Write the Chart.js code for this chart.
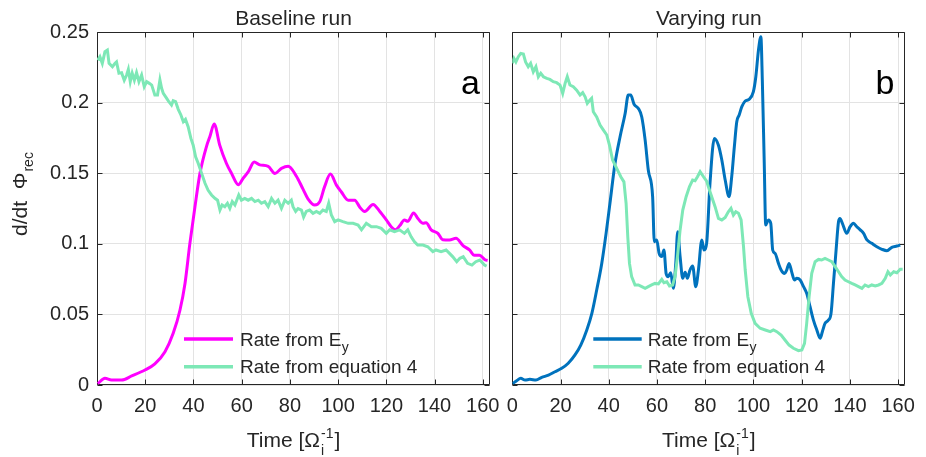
<!DOCTYPE html>
<html><head><meta charset="utf-8">
<script src="https://cdn.jsdelivr.net/npm/chart.js@4.4.1/dist/chart.umd.min.js"></script>
<style>
html,body{margin:0;padding:0;background:#fff;}
#wrap{position:relative;width:926px;height:457px;overflow:hidden;}
canvas{position:absolute;top:0;}
</style>
</head><body>
<div id="wrap">
<canvas id="c1" width="506" height="457" style="left:0"></canvas>
<canvas id="c2" width="420" height="457" style="left:506px"></canvas>
</div>
<script>
// ---- tick values / labels ----
const xTicks = [0,20,40,60,80,100,120,140,160];
const xTickLabels = ['0','20','40','60','80','100','120','140','160'];
const yTicks = [0,0.05,0.1,0.15,0.2,0.25];
const yTickLabels = ['0','0.05','0.1','0.15','0.2','0.25'];
const panelTitles = ['Baseline run','Varying run'];
const panelLetters = ['a','b'];
const legendLabels = ['Rate from E','Rate from equation 4'];

// ---- data: [time, rate] ----
const baselineEy = [[0.3,0.001],[3.3,0.0047],[6,0.0035],[10.2,0.0035],[14.4,0.0064],[19.9,0.0106],[24,0.015],[28.2,0.0236],[31.6,0.0366],[34.4,0.053],[36.5,0.072],[38.5,0.100],[40.6,0.126],[42.7,0.150],[45.4,0.169],[46.8,0.176],[48.6,0.185],[50.9,0.170],[53.7,0.157],[55.8,0.150],[58.6,0.142],[60.6,0.1465],[62.7,0.151],[65.2,0.158],[67.5,0.156],[71,0.155],[73.8,0.150],[76.5,0.1535],[79.3,0.155],[82.7,0.148],[85.4,0.139],[87.5,0.132],[90.3,0.1276],[92.4,0.130],[94.4,0.1406],[96.8,0.1495],[99.3,0.1417],[101.3,0.137],[104.2,0.131],[106.9,0.131],[109,0.126],[111,0.123],[114.5,0.128],[117.3,0.123],[120,0.117],[122.1,0.112],[123.8,0.110],[125.6,0.113],[127.5,0.117],[128.9,0.116],[131.3,0.122],[133.1,0.118],[135.2,0.1146],[136.5,0.115],[138.6,0.110],[141.4,0.1075],[143.4,0.103],[146.2,0.1028],[148.9,0.104],[151.7,0.099],[154.5,0.0957],[156.5,0.092],[158.6,0.092],[161.1,0.0886],[162,0.0883]];

const baselineEq4 = [[0.3,0.2303],[1.2,0.2327],[2.2,0.228],[3.3,0.2362],[4.3,0.2374],[5,0.228],[6.4,0.2256],[7.5,0.228],[8.1,0.229],[9.1,0.221],[10.2,0.2214],[11.3,0.216],[12.3,0.2197],[13,0.2237],[13.8,0.215],[14.6,0.221],[15.5,0.216],[16.4,0.2214],[17.4,0.215],[18.5,0.2197],[19.6,0.2114],[20.6,0.215],[21.7,0.2138],[22.7,0.2126],[24,0.2055],[25.1,0.2055],[26.1,0.2162],[26.8,0.2103],[27.5,0.2067],[28.9,0.2032],[29.8,0.2008],[30.9,0.1984],[31.6,0.2015],[32.6,0.2008],[33.7,0.1954],[34.8,0.1914],[35.8,0.1866],[36.7,0.1883],[37.8,0.1831],[38.95,0.1748],[39.9,0.170],[40.9,0.1618],[42,0.157],[43.4,0.150],[44.8,0.143],[46.1,0.138],[47.5,0.1347],[48.9,0.1323],[50,0.131],[51,0.124],[51.9,0.1276],[53,0.1264],[54.1,0.1288],[55.1,0.1252],[56.1,0.130],[57.2,0.1276],[58.8,0.1347],[59.9,0.131],[61.3,0.1323],[62.7,0.131],[64.1,0.1323],[65.5,0.130],[66.9,0.131],[68.2,0.1288],[69.6,0.130],[71,0.1264],[72.4,0.1323],[73.8,0.1288],[75.1,0.131],[76.5,0.1252],[77.9,0.131],[79.3,0.1288],[80.6,0.131],[81.3,0.1264],[82.4,0.123],[83.4,0.125],[84.8,0.124],[85.7,0.119],[86.8,0.123],[88.2,0.124],[89.6,0.1217],[91,0.123],[92.4,0.1217],[93.7,0.124],[95.1,0.123],[96.1,0.1288],[97.2,0.1205],[98.6,0.1158],[100,0.117],[102,0.1158],[104.2,0.1146],[106.2,0.1146],[108.3,0.1134],[109.7,0.110],[111.7,0.1146],[113.8,0.1122],[115.9,0.1122],[117.9,0.111],[120,0.1075],[121.4,0.110],[123.4,0.1087],[125.5,0.110],[127.5,0.1075],[128.9,0.110],[130.3,0.105],[131.6,0.1016],[133,0.0992],[135.2,0.0992],[137.2,0.098],[139.3,0.0945],[140.6,0.0957],[142.7,0.0945],[144.8,0.0957],[146.2,0.0933],[147.5,0.091],[149.2,0.0874],[150.5,0.0898],[151.9,0.091],[153.7,0.0862],[155.5,0.085],[157.1,0.0874],[158.8,0.0886],[160.7,0.085],[161.6,0.0843]];

const varyingEy = [[0.15,0.001],[1.8,0.003],[3.5,0.0047],[5.3,0.0035],[7.3,0.004],[9.8,0.0035],[12.2,0.0054],[15,0.007],[17.7,0.0094],[20.5,0.0118],[23.2,0.0154],[26,0.0213],[28.4,0.0283],[30.9,0.039],[33,0.0508],[35,0.0673],[37.1,0.0862],[38.9,0.1075],[40.5,0.1288],[42.6,0.157],[44.7,0.176],[46.8,0.1925],[48.1,0.2055],[49.1,0.2055],[50.5,0.199],[52.3,0.196],[53.7,0.190],[55.1,0.1736],[56.4,0.1524],[58.2,0.1335],[58.9,0.1016],[59.9,0.1028],[60.9,0.0933],[62,0.091],[62.9,0.0957],[63.8,0.079],[64.7,0.0768],[65.7,0.0796],[66.8,0.0685],[67.8,0.0862],[68.6,0.1087],[69.6,0.091],[70.7,0.0756],[71.7,0.080],[72.6,0.0756],[73.7,0.0815],[74.8,0.0843],[76.1,0.0697],[77.2,0.0815],[78.6,0.1028],[79.5,0.0957],[80.6,0.1004],[82,0.143],[83.8,0.1748],[85.5,0.170],[86.9,0.1595],[88.3,0.1453],[89.9,0.1335],[91,0.1476],[92.1,0.169],[93.1,0.1866],[94.1,0.1914],[95.2,0.1973],[96.6,0.2013],[98.2,0.2025],[100,0.208],[101,0.2185],[102.1,0.2374],[103.1,0.2469],[103.7,0.216],[104.5,0.157],[105.1,0.1134],[106.2,0.117],[107.2,0.1146],[108,0.0957],[109,0.0933],[110.4,0.0862],[111.5,0.0815],[112.9,0.079],[113.8,0.0815],[114.8,0.0862],[115.9,0.080],[117,0.0744],[118,0.0756],[119.4,0.0744],[120.8,0.0697],[122.1,0.065],[123.5,0.0555],[124.9,0.046],[126.3,0.039],[127.7,0.0331],[128.6,0.0378],[129.7,0.0437],[131.1,0.046],[132.2,0.0508],[133.2,0.072],[134.3,0.0957],[135.3,0.1158],[135.9,0.1181],[136.9,0.1146],[138.7,0.1075],[140.1,0.1122],[141.5,0.1146],[142.9,0.1122],[144.3,0.110],[145.7,0.1075],[147.1,0.1028],[149.1,0.1004],[151.2,0.098],[153.3,0.0962],[155.4,0.0952],[157.4,0.0976],[159.5,0.0985],[160.9,0.0992]];

const varyingEq4 = [[0,0.228],[0.7,0.2315],[1.5,0.229],[2.5,0.2327],[3.5,0.235],[4.6,0.2346],[5.5,0.229],[6.6,0.2256],[7.6,0.228],[8.7,0.222],[9.8,0.2256],[10.8,0.2185],[11.8,0.221],[12.9,0.2185],[14.3,0.2173],[15.6,0.2166],[17,0.215],[18.4,0.2143],[19.8,0.2126],[20.9,0.2067],[21.9,0.2138],[22.8,0.2185],[23.9,0.2126],[25.3,0.2114],[26.7,0.209],[28.1,0.2055],[29.2,0.2072],[30.2,0.2043],[31.1,0.1996],[32.2,0.202],[32.9,0.2032],[33.6,0.1937],[35,0.190],[36.4,0.1843],[37.8,0.1807],[39.2,0.1772],[40.3,0.170],[41.6,0.1595],[43.3,0.1536],[45,0.1476],[46.3,0.144],[47.2,0.1288],[47.9,0.105],[48.6,0.0862],[49.5,0.0768],[50.9,0.0709],[52.3,0.0709],[53.7,0.0697],[55.1,0.0685],[56.4,0.0697],[57.8,0.0709],[59.2,0.072],[60.6,0.0716],[62,0.0749],[62.9,0.0725],[64.1,0.0732],[65.2,0.0702],[66.5,0.0709],[67.5,0.0768],[68.5,0.091],[69.6,0.1099],[70.7,0.124],[72.1,0.1335],[73.5,0.1406],[74.8,0.1453],[75.8,0.1448],[76.8,0.1476],[77.9,0.1512],[79.3,0.1476],[80.6,0.1445],[81.3,0.1406],[82.7,0.1335],[84.1,0.1264],[85.5,0.1181],[86.9,0.117],[88.3,0.1188],[89.6,0.1228],[90.7,0.1252],[91.7,0.1205],[92.7,0.1228],[93.8,0.1217],[94.9,0.117],[95.9,0.098],[96.6,0.0815],[97.7,0.0626],[99.1,0.0508],[100.7,0.0437],[102.8,0.0402],[104.9,0.039],[107,0.0378],[108.3,0.039],[109.7,0.0378],[111.5,0.0354],[113.1,0.0319],[114.8,0.0283],[116.6,0.026],[118.7,0.0243],[120.1,0.0248],[121.2,0.0295],[122.1,0.0437],[123.1,0.0626],[124.2,0.0791],[125.6,0.0874],[127,0.089],[128.3,0.0886],[129.7,0.0898],[131.1,0.0886],[132.5,0.0874],[133.9,0.0839],[135.3,0.0803],[136.6,0.0768],[138,0.0744],[139.4,0.0732],[140.8,0.072],[142.2,0.0709],[143.6,0.0697],[145,0.0685],[146.3,0.0709],[147.7,0.0697],[149.1,0.0709],[150.5,0.0702],[151.9,0.0709],[153.3,0.072],[154.7,0.0756],[155.8,0.0803],[156.8,0.078],[158.2,0.0803],[159.5,0.0796],[160.9,0.082],[161.9,0.082]];

const FONT = '"Liberation Sans", Arial, Helvetica, sans-serif';
const INK = '#262626';
const MAGENTA = '#ff00ff';
const BLUE = '#0072bd';
const GREEN = '#7de8b6';

Chart.defaults.font.family = FONT;

const deco = {
  id: 'deco',
  beforeDatasetsDraw(chart, args, o) {
    const {ctx, chartArea: {left, right, top, bottom}} = chart;
    const xs = chart.scales.x, ys = chart.scales.y;
    ctx.save();
    ctx.strokeStyle = INK; ctx.lineWidth = 1;
    const L = Math.round(left) + 0.5, R = Math.round(right) - 0.5, T = Math.round(top) + 0.5, B = Math.round(bottom) - 0.5;
    ctx.beginPath();
    ctx.rect(L, T, R - L, B - T);
    xTicks.forEach(v => {
      const p = Math.round(xs.getPixelForValue(v)) + 0.5;
      ctx.moveTo(p, B); ctx.lineTo(p, B - 5);
      ctx.moveTo(p, T); ctx.lineTo(p, T + 5);
    });
    yTicks.forEach(v => {
      const p = Math.round(ys.getPixelForValue(v)) + 0.5;
      ctx.moveTo(L, p); ctx.lineTo(L + 5, p);
      ctx.moveTo(R, p); ctx.lineTo(R - 5, p);
    });
    ctx.stroke();
    ctx.restore();
  },
  afterDraw(chart, args, o) {
    const {ctx, chartArea: {left, right, top, bottom}} = chart;
    const cx = (left + right) / 2;
    ctx.save();
    ctx.fillStyle = INK;
    ctx.textBaseline = 'alphabetic';
    // title
    ctx.font = '21px ' + FONT; ctx.textAlign = 'center';
    ctx.fillText(o.title, cx, 25);
    // panel letter
    ctx.font = '34px ' + FONT; ctx.textAlign = 'right'; ctx.fillStyle = '#000';
    ctx.fillText(o.letter, right - o.letterInset, 94);
    ctx.fillStyle = INK;
    // x label
    const big = '21px ' + FONT, small = '14px ' + FONT;
    ctx.textAlign = 'left';
    ctx.font = big;
    const w1 = ctx.measureText('Time [\u03A9').width;
    const w3 = ctx.measureText(']').width;
    ctx.font = small;
    const ws = Math.max(ctx.measureText('-1').width, ctx.measureText('i').width) + 2;
    const tot = w1 + ws + w3;
    let x0 = cx - tot / 2;
    const by = 446.5;
    ctx.font = big; ctx.fillText('Time [\u03A9', x0, by);
    ctx.font = small; ctx.fillText('-1', x0 + w1 + 1, by - 9); ctx.fillText('i', x0 + w1 + 1, by + 8);
    ctx.font = big; ctx.fillText(']', x0 + w1 + ws, by);
    // y label
    if (o.yLabel) {
      ctx.save();
      ctx.translate(26.5, 236);
      ctx.rotate(-Math.PI / 2);
      ctx.font = big;
      const main = 'd/dt  \u03A6';
      ctx.fillText(main, 0, 0);
      const wm = ctx.measureText(main).width;
      ctx.font = small;
      ctx.fillText('rec', wm + 1, 6.5);
      ctx.restore();
    }
    // legend
    const ds = chart.data.datasets;
    const rows = [{y: 339, ty: 345.5, idx: 1}, {y: 366.7, ty: 373, idx: 0}];
    rows.forEach((r, k) => {
      const d = ds[r.idx];
      ctx.strokeStyle = d.borderColor; ctx.lineWidth = 3.5;
      ctx.beginPath(); ctx.moveTo(o.legX0, r.y); ctx.lineTo(o.legX1, r.y); ctx.stroke();
      ctx.fillStyle = INK; ctx.font = '19px ' + FONT; ctx.textAlign = 'left';
      ctx.fillText(legendLabels[k], o.legTX, r.ty);
      if (k === 0) {
        const w = ctx.measureText(legendLabels[k]).width;
        ctx.font = '14px ' + FONT;
        ctx.fillText('y', o.legTX + w + 0.5, r.ty + 6);
      }
    });
    ctx.restore();
  }
};

function makeChart(id, ey, eq4, eyColor, cfg) {
  return new Chart(document.getElementById(id), {
    type: 'line',
    data: {
      datasets: [
        {label: legendLabels[1], data: eq4.map(p => ({x: p[0], y: p[1]})), borderColor: GREEN, borderWidth: 3, pointRadius: 0, tension: 0, order: 0},
        {label: legendLabels[0], data: ey.map(p => ({x: p[0], y: p[1]})), borderColor: eyColor, borderWidth: 3, pointRadius: 0, cubicInterpolationMode: 'monotone', order: 1}
      ]
    },
    options: {
      responsive: false, animation: false, events: [],
      layout: {padding: {left: 0, right: cfg.padRight, top: 32.3, bottom: 0}},
      plugins: {legend: {display: false}, tooltip: {enabled: false}, deco: cfg.deco},
      scales: {
        x: {
          type: 'linear', min: 0, max: 163,
          afterBuildTicks: s => { s.ticks = xTicks.map(v => ({value: v})); },
          ticks: {callback: (v, i) => xTickLabels[i], font: {size: 20}, color: INK, padding: 9, maxRotation: 0, autoSkip: false},
          grid: {color: '#e3e3e3', drawTicks: false, lineWidth: 1},
          border: {display: false},
          afterFit: s => { s.height = 457 - 385; s.paddingLeft = 0; s.paddingRight = 0; }
        },
        y: {
          type: 'linear', min: 0, max: 0.25,
          afterBuildTicks: s => { s.ticks = yTicks.map(v => ({value: v})); },
          ticks: {display: cfg.showY, callback: (v, i) => yTickLabels[i], font: {size: 20}, color: INK, padding: 8},
          grid: {color: '#e3e3e3', drawTicks: false, lineWidth: 1},
          border: {display: false},
          afterFit: s => { s.width = cfg.yWidth; s.paddingTop = 0; s.paddingBottom = 0; }
        }
      }
    },
    plugins: [deco]
  });
}

makeChart('c1', baselineEy, baselineEq4, MAGENTA, {
  padRight: 16, yWidth: 97, showY: true,
  deco: {title: panelTitles[0], letter: panelLetters[0], letterInset: 10, yLabel: true, legX0: 184, legX1: 233, legTX: 240}
});
makeChart('c2', varyingEy, varyingEq4, BLUE, {
  padRight: 20.7, yWidth: 6.3, showY: false,
  deco: {title: panelTitles[1], letter: panelLetters[1], letterInset: 11, yLabel: false, legX0: 87.3, legX1: 135.7, legTX: 141.7}
});
</script>
</body></html>
